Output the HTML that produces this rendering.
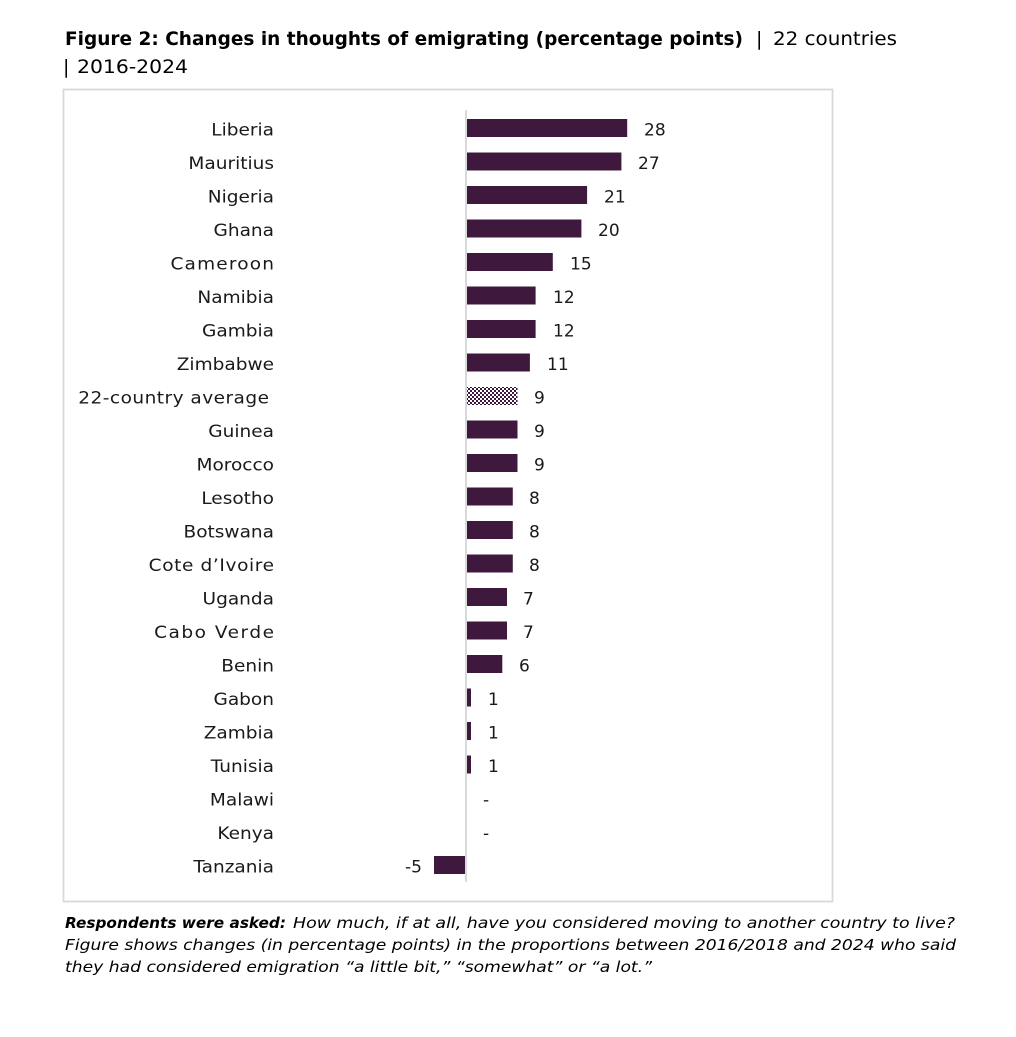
<!DOCTYPE html>
<html>
<head>
<meta charset="utf-8">
<style>
  html, body { margin: 0; padding: 0; background: #ffffff; }
  svg { display: block; }
  .lbl { font-family: "DejaVu Sans", "Liberation Sans", sans-serif; font-size: 17px; fill: #1a1a1a; }
  .val { font-family: "DejaVu Sans", "Liberation Sans", sans-serif; font-size: 17px; fill: #1a1a1a; }
  .tb { font-family: "DejaVu Sans", "Liberation Sans", sans-serif; font-size: 19px; font-weight: bold; fill: #000; }
  .tr { font-family: "DejaVu Sans", "Liberation Sans", sans-serif; font-size: 19px; fill: #000; }
  .cap { font-family: "DejaVu Sans", "Liberation Sans", sans-serif; font-size: 15.5px; font-style: italic; fill: #000; }
  .capb { font-family: "DejaVu Sans", "Liberation Sans", sans-serif; font-size: 15.5px; font-style: italic; font-weight: bold; fill: #000; }
</style>
</head>
<body>
<svg width="1016" height="1037" viewBox="0 0 1016 1037" xmlns="http://www.w3.org/2000/svg">
  <defs>
    <pattern id="chk" x="0" y="0" width="4" height="4" patternUnits="userSpaceOnUse">
      <rect x="0" y="0" width="4" height="4" fill="#ffffff"/>
      <rect x="0" y="0" width="2" height="2" fill="#3f193d"/>
      <rect x="2" y="2" width="2" height="2" fill="#3f193d"/>
    </pattern>
  </defs>
  <rect width="1016" height="1037" fill="#ffffff"/>

  <!-- Title -->
  <text class="tb" x="65" y="45" textLength="678" lengthAdjust="spacingAndGlyphs">Figure 2: Changes in thoughts of emigrating (percentage points)</text>
  <text class="tr" x="756" y="45">|</text>
  <text class="tr" x="773" y="45" textLength="124" lengthAdjust="spacingAndGlyphs">22 countries</text>
  <text class="tr" x="63" y="73">|</text>
  <text class="tr" x="77" y="73" textLength="111" lengthAdjust="spacingAndGlyphs">2016-2024</text>

  <!-- Chart box -->
  <rect x="63.5" y="89.5" width="769" height="812" fill="none" stroke="#d9d9d9" stroke-width="1.8"/>

  <!-- Axis line -->
  <rect x="465" y="110" width="2" height="772" fill="#d9d9d9"/>

  <!-- Bars -->
  <g fill="#3f193d">
    <rect x="467" y="119" width="160.2" height="18"/>
    <rect x="467" y="152.5" width="154.4" height="18"/>
    <rect x="467" y="186" width="120.1" height="18"/>
    <rect x="467" y="219.5" width="114.4" height="18"/>
    <rect x="467" y="253" width="85.8" height="18"/>
    <rect x="467" y="286.5" width="68.6" height="18"/>
    <rect x="467" y="320" width="68.6" height="18"/>
    <rect x="467" y="353.5" width="62.9" height="18"/>
    <rect x="467" y="420.5" width="50.5" height="18"/>
    <rect x="467" y="454" width="50.5" height="18"/>
    <rect x="467" y="487.5" width="45.8" height="18"/>
    <rect x="467" y="521" width="45.8" height="18"/>
    <rect x="467" y="554.5" width="45.8" height="18"/>
    <rect x="467" y="588" width="40" height="18"/>
    <rect x="467" y="621.5" width="40" height="18"/>
    <rect x="467" y="655" width="35.3" height="18"/>
    <rect x="467" y="688.5" width="4" height="18"/>
    <rect x="467" y="722" width="4" height="18"/>
    <rect x="467" y="755.5" width="4" height="18"/>
    <rect x="434" y="856" width="31" height="18"/>
  </g>
  <rect x="467" y="387" width="50.5" height="18" fill="url(#chk)"/>

  <!-- Category labels (uniform horizontal stretch to mimic wide geometric font) -->
  <g class="lbl" text-anchor="end" transform="translate(274,0) scale(1.09,1)">
    <text x="0" y="135.5">Liberia</text>
    <text x="0" y="169">Mauritius</text>
    <text x="0" y="202.5">Nigeria</text>
    <text x="0" y="236">Ghana</text>
    <text x="0" y="269.5" textLength="95" lengthAdjust="spacing">Cameroon</text>
    <text x="0" y="303">Namibia</text>
    <text x="0" y="336.5">Gambia</text>
    <text x="0" y="370">Zimbabwe</text>
    <text x="-4.6" y="403.5" textLength="175" lengthAdjust="spacing">22-country average</text>
    <text x="0" y="437">Guinea</text>
    <text x="0" y="470.5">Morocco</text>
    <text x="0" y="504">Lesotho</text>
    <text x="0" y="537.5">Botswana</text>
    <text x="0" y="571" textLength="115" lengthAdjust="spacing">Cote d&#8217;Ivoire</text>
    <text x="0" y="604.5">Uganda</text>
    <text x="0" y="638" textLength="110" lengthAdjust="spacing">Cabo Verde</text>
    <text x="0" y="671.5">Benin</text>
    <text x="0" y="705">Gabon</text>
    <text x="0" y="738.5">Zambia</text>
    <text x="0" y="772">Tunisia</text>
    <text x="0" y="805.5">Malawi</text>
    <text x="0" y="839">Kenya</text>
    <text x="0" y="872.5">Tanzania</text>
  </g>

  <!-- Value labels -->
  <g class="val">
    <text x="644" y="135.5">28</text>
    <text x="638" y="169">27</text>
    <text x="604" y="202.5">21</text>
    <text x="598" y="236">20</text>
    <text x="570" y="269.5">15</text>
    <text x="553" y="303">12</text>
    <text x="553" y="336.5">12</text>
    <text x="547" y="370">11</text>
    <text x="534" y="403.5">9</text>
    <text x="534" y="437">9</text>
    <text x="534" y="470.5">9</text>
    <text x="529" y="504">8</text>
    <text x="529" y="537.5">8</text>
    <text x="529" y="571">8</text>
    <text x="523" y="604.5">7</text>
    <text x="523" y="638">7</text>
    <text x="519" y="671.5">6</text>
    <text x="488" y="705">1</text>
    <text x="488" y="738.5">1</text>
    <text x="488" y="772">1</text>
    <text x="483" y="805.5">-</text>
    <text x="483" y="839">-</text>
    <text x="422" y="872.5" text-anchor="end">-5</text>
  </g>

  <!-- Caption -->
  <text class="capb" x="65" y="928" textLength="221" lengthAdjust="spacingAndGlyphs">Respondents were asked:</text>
  <text class="cap" x="293" y="928" textLength="662" lengthAdjust="spacingAndGlyphs">How much, if at all, have you considered moving to another country to live?</text>
  <text class="cap" x="65" y="950" textLength="891" lengthAdjust="spacingAndGlyphs">Figure shows changes (in percentage points) in the proportions between 2016/2018 and 2024 who said</text>
  <text class="cap" x="65" y="972" textLength="587" lengthAdjust="spacingAndGlyphs">they had considered emigration &#8220;a little bit,&#8221; &#8220;somewhat&#8221; or &#8220;a lot.&#8221;</text>
</svg>
</body>
</html>
